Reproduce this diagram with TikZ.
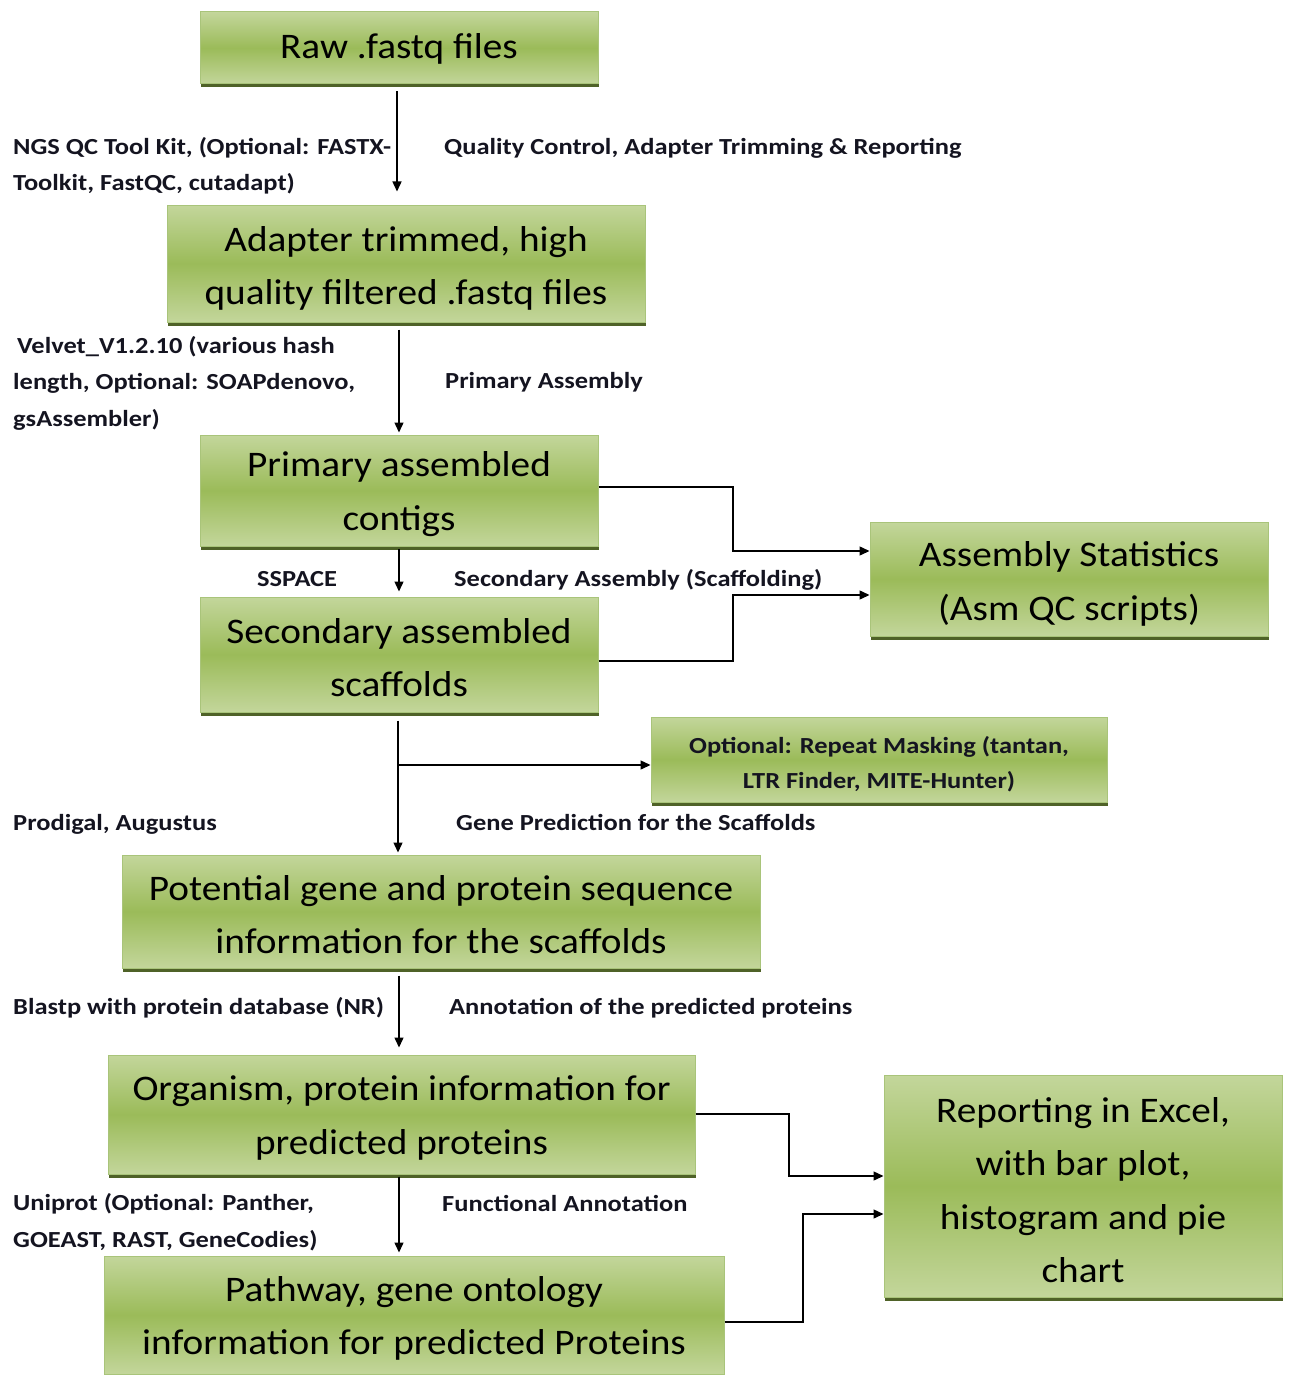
\documentclass[tikz,border=0pt]{standalone}
\usepackage{fontspec}
\setmainfont{Carlito}
\newfontfamily\stagefont[FakeStretch=1.09]{Carlito}
\newfontfamily\notefont[FakeStretch=1.15]{Carlito}
\usetikzlibrary{arrows.meta,shadows}
\definecolor{boxlight}{HTML}{C3D69B}
\definecolor{boxmid}{HTML}{9BBB59}
\definecolor{boxedge}{HTML}{A9C47A}
\definecolor{boxshadow}{HTML}{4F6228}
\definecolor{labelink}{HTML}{141420}
\begin{document}
\begin{tikzpicture}[x=1pt,y=-1pt,
  stage/.style={rectangle, inner sep=0pt, top color=boxlight, bottom color=boxlight,
    middle color=boxmid, draw=boxedge, line width=1pt,
    general shadow={fill=boxshadow, shadow xshift=1pt, shadow yshift=-3.5pt}},
  stagetext/.style={inner sep=0pt, align=center,
    font=\stagefont\fontsize{36}{53.3}\selectfont, text=black},
  smalltext/.style={inner sep=0pt, align=center,
    font=\notefont\bfseries\fontsize{23}{35}\selectfont, text=labelink},
  note/.style={inner sep=0pt, align=left,
    font=\notefont\bfseries\fontsize{23}{36.5}\selectfont,
    text=labelink, anchor=base west},
  flow/.style={-{Triangle[length=10pt,width=9pt]}, line width=1.4pt},
]
\useasboundingbox (0,0) rectangle (1289,1375);

% pipeline stages (boxes)
\node[stage, minimum width=398pt, minimum height=72pt]  (raw)   at (399,48)       {};
\node[stage, minimum width=478pt, minimum height=117pt] (adapt) at (406,263.5)    {};
\node[stage, minimum width=398pt, minimum height=111pt] (prim)  at (399,490.5)    {};
\node[stage, minimum width=398pt, minimum height=115pt] (sec)   at (399,654.5)    {};
\node[stage, minimum width=398pt, minimum height=114pt] (stats) at (1069,579)     {};
\node[stage, minimum width=456pt, minimum height=85pt]  (opt)   at (879,759.5)    {};
\node[stage, minimum width=638pt, minimum height=113pt] (pot)   at (441,911.5)    {};
\node[stage, minimum width=587pt, minimum height=119pt] (org)   at (401.5,1114.5) {};
\node[stage, minimum width=620pt, minimum height=118pt] (path)  at (414,1315)     {};
\node[stage, minimum width=398pt, minimum height=222pt] (rep)   at (1083,1186)    {};

% stage captions
\node[stagetext] (rawt)   at ([yshift=-1pt]raw.center)   {Raw .fastq files};
\node[stagetext] (adaptt) at ([yshift=-5pt]adapt.center) {Adapter trimmed, high\\quality filtered .fastq files};
\node[stagetext] (primt)  at ([yshift=-3.5pt]prim.center)  {Primary assembled\\contigs};
\node[stagetext] (sect)   at ([yshift=-3pt]sec.center)   {Secondary assembled\\scaffolds};
\node[stagetext] (statst) at ([yshift=-5pt]stats.center) {Assembly Statistics\\(Asm QC scripts)};
\node[smalltext] (optt)   at ([yshift=-4.5pt]opt.center)   {Optional: Repeat Masking (tantan,\\LTR Finder, MITE-Hunter)};
\node[stagetext] (pott)   at ([yshift=-3pt]pot.center)   {Potential gene and protein sequence\\information for the scaffolds};
\node[stagetext] (orgt)   at ([yshift=-3.5pt]org.center)   {Organism, protein information for\\predicted proteins};
\node[stagetext] (patht)  at ([yshift=-3.5pt]path.center)  {Pathway, gene ontology\\information for predicted Proteins};
\node[stagetext] (rept)   at ([yshift=-4pt]rep.center)   {Reporting in Excel,\\with bar plot,\\histogram and pie\\chart};

% main vertical flow
\draw[flow, shorten <=7pt, shorten >=13pt] ([xshift=-2pt]raw.south) -- ([xshift=-2pt]raw.south |- adapt.north);
\draw[flow, shorten <=7pt, shorten >=2pt] (adapt.south -| prim.south) -- (prim.north);
\draw[flow, shorten <=2pt, shorten >=5pt] (prim.south) -- (sec.north);
\draw[flow, shorten <=8pt, shorten >=2pt] ([xshift=-1pt]sec.south) -- ([xshift=-1pt]sec.south |- pot.north);
\coordinate (branch) at (398,765);
\draw[flow] (branch) -- (opt.west |- branch);
\draw[flow, shorten <=7pt, shorten >=7pt] (pot.south -| sec.south) -- (sec.south |- org.north);
\draw[flow, shorten <=2pt, shorten >=3pt] (org.south -| sec.south) -- (sec.south |- path.north);

% side branches to the summary boxes
\draw[flow] (prim.east |- 0,487) -- (733,487) -- (733,551) -- (stats.west |- 0,551);
\draw[flow] (sec.east |- 0,661) -- (733,661) -- (733,595) -- (stats.west |- 0,595);
\draw[flow] (org.east |- 0,1114) -- (789,1114) -- (789,1176) -- (rep.west |- 0,1176);
\draw[flow] (path.east |- 0,1322) -- (803,1322) -- (803,1214) -- (rep.west |- 0,1214);

% tool and step labels
\node[note] (l1) at (13,191)  {NGS QC Tool Kit, (Optional: FASTX-\\Toolkit, FastQC, cutadapt)};
\node[note] (r1) at (444,155) {Quality Control, Adapter Trimming \& Reporting};
\node[note] (l2) at (13,426)  {\hspace*{4pt}Velvet\_V1.2.10 (various hash\\length, Optional: SOAPdenovo,\\gsAssembler)};
\node[note] (r2) at (445,388) {Primary Assembly};
\node[note] (l3) at (257,586) {SSPACE};
\node[note] (r3) at (454,586) {Secondary Assembly (Scaffolding)};
\node[note] (l4) at (13,830)  {Prodigal, Augustus};
\node[note] (r4) at (456,830) {Gene Prediction for the Scaffolds};
\node[note] (l5) at (13,1014) {Blastp with protein database (NR)};
\node[note] (r5) at (449,1014) {Annotation of the predicted proteins};
\node[note] (l6) at (13,1247) {Uniprot (Optional: Panther,\\GOEAST, RAST, GeneCodies)};
\node[note] (r6) at (442,1211) {Functional Annotation};
\end{tikzpicture}
\end{document}
